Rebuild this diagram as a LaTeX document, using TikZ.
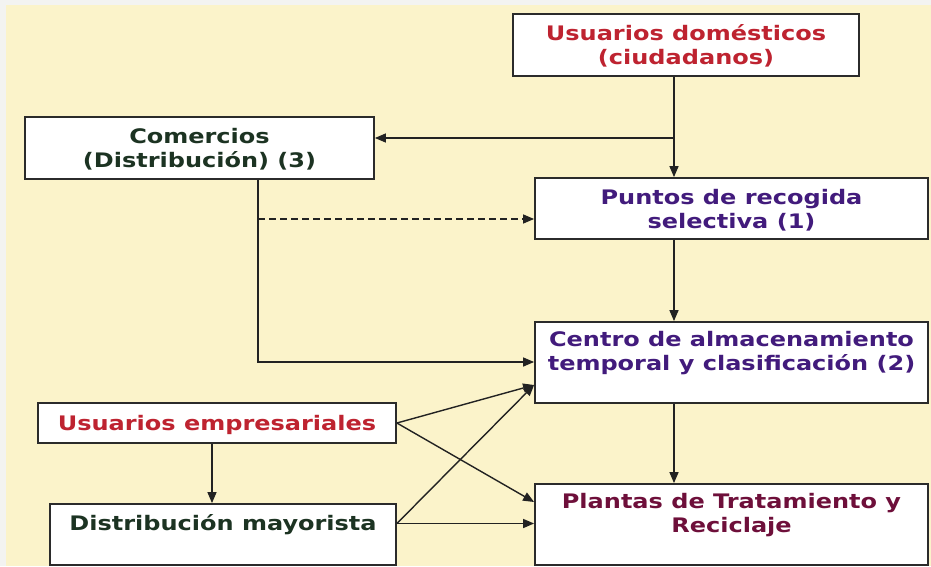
\documentclass[tikz,border=0pt]{standalone}
\usepackage{fontspec}
\setmainfont{DejaVu Sans}[FakeStretch=1.2]
\usetikzlibrary{arrows.meta}
\definecolor{bgc}{HTML}{FBF3CA}
\definecolor{edgec}{HTML}{F3F3F1}
\definecolor{boxline}{HTML}{2B2B2B}
\definecolor{lineclr}{HTML}{222222}
\definecolor{cred}{HTML}{BE2330}
\definecolor{cgreen}{HTML}{1C3322}
\definecolor{cpurple}{HTML}{421B7C}
\definecolor{cmaroon}{HTML}{6E0F3A}
\newcommand{\lnst}{\rule[-4.5pt]{0pt}{24pt}}
\begin{document}
\begin{tikzpicture}[x=1pt,y=-1pt,
  box/.style={draw=boxline, line width=1.8pt, fill=white, inner sep=0pt, align=center,
    font=\fontsize{20}{24}\selectfont\bfseries},
  conn/.style={line width=1.4pt, draw=lineclr, -{Triangle[length=11pt,width=9pt]}}]
\useasboundingbox (0,0) rectangle (931,566);
\fill[edgec] (0,0) rectangle (931,566);
\fill[bgc] (6,5) rectangle (931,566);

\node[box, minimum width=346pt, minimum height=62pt, text=cred] (ud) at (686,45)
  {\lnst Usuarios domésticos\\\lnst (ciudadanos)};
\node[box, minimum width=349pt, minimum height=62pt, text=cgreen] (com) at (199.5,148)
  {\lnst Comercios\\\lnst (Distribución) (3)};
\node[box, minimum width=393pt, minimum height=61pt, text=cpurple] (pun) at (731.5,208.5)
  {\lnst Puntos de recogida\\\lnst selectiva (1)};
\node[box, minimum width=393pt, minimum height=81pt, text=cpurple] (cen) at (731.5,362.5)
  {\lnst Centro de almacenamiento\\\lnst temporal y clasificación (2)\\\lnst};
\node[box, minimum width=358pt, minimum height=40pt, text=cred] (ue) at (217,423)
  {\lnst Usuarios empresariales};
\node[box, minimum width=346pt, minimum height=61pt, text=cgreen] (dm) at (223,534.5)
  {\lnst Distribución mayorista\\\lnst};
\node[box, minimum width=393pt, minimum height=81pt, text=cmaroon] (pla) at (731.5,524.5)
  {\lnst Plantas de Tratamiento y\\\lnst Reciclaje\\\lnst};

\coordinate (j) at (674,138);
\coordinate (k) at (258,362);
\coordinate (d) at (258,219);
\coordinate (u) at (212,0);
\coordinate (dmo) at ([yshift=11pt]dm.east);
\coordinate (cin) at ([yshift=-22.5pt]cen.west);
\coordinate (pin) at ([yshift=22.5pt]pla.west);

\draw[conn] (ud.south -| j) -- (pun.north -| j);
\draw[conn] (j) -- (com.east |- j);
\draw[conn] (com.south -| k) -- (k) -- (cen.west |- k);
\draw[conn, dash pattern=on 7pt off 4pt] (d) -- (pun.west |- d);
\draw[conn] (pun.south -| j) -- (cen.north -| j);
\draw[conn] (cen.south -| j) -- (pla.north -| j);
\draw[conn] (ue.south -| u) -- (dm.north -| u);
\draw[conn] (ue.east) -- (cin);
\draw[conn] (ue.east) -- (pin);
\draw[conn] (dmo) -- (cin);
\draw[conn] (dmo) -- (pla.west |- dmo);
\end{tikzpicture}
\end{document}
